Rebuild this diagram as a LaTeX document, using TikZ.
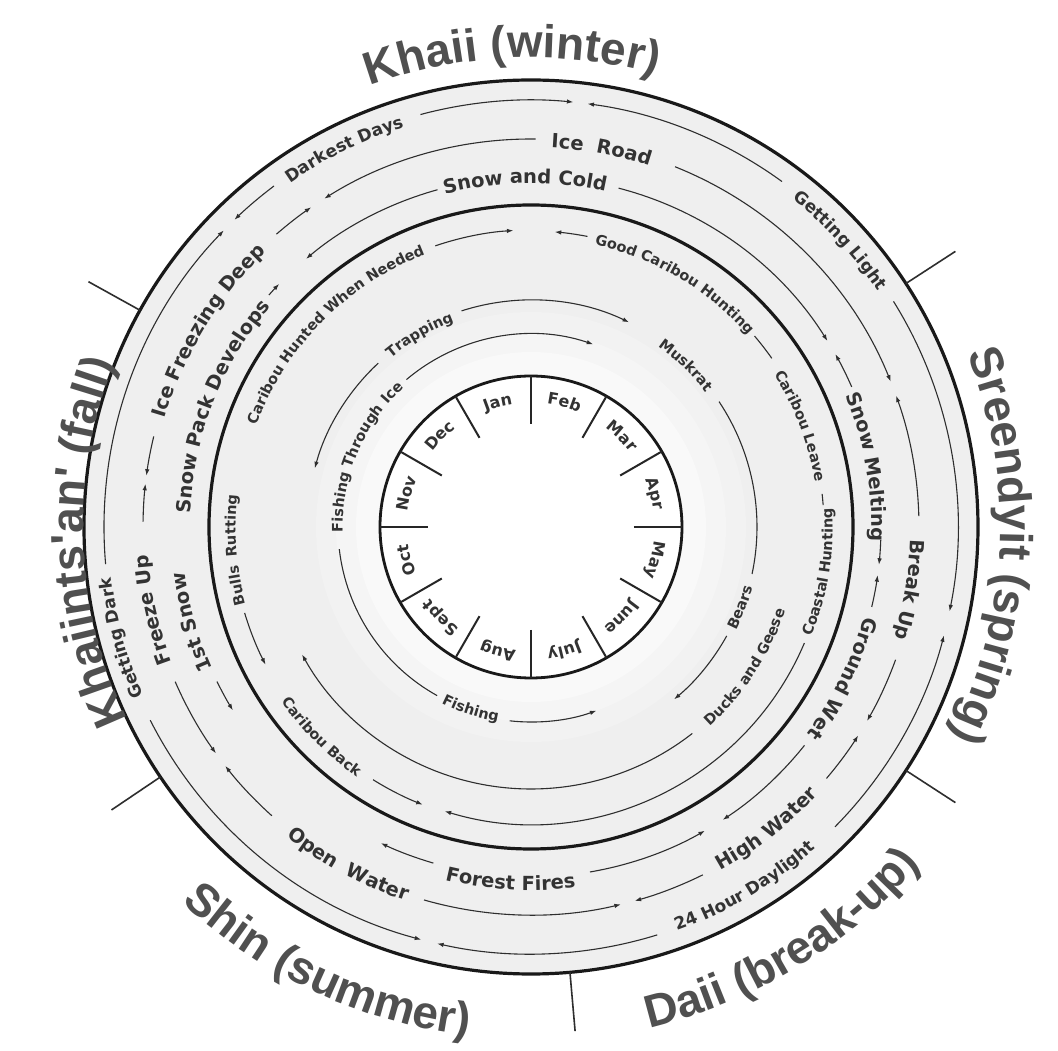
\documentclass[tikz,border=0pt]{standalone}
\usepackage{fontspec}
\setmainfont{DejaVu Sans}
\newfontfamily\lsans{Liberation Sans}
\newfontfamily\dvs{DejaVu Sans}
\usetikzlibrary{decorations.text,arrows.meta}
\definecolor{txt}{HTML}{333333}
\definecolor{seas}{HTML}{505050}
\definecolor{ringfill}{HTML}{EFEFEF}
\definecolor{ln}{HTML}{2E2E2E}
\newcommand\fSeason{\fontsize{46pt}{46pt}\selectfont\lsans\bfseries\color{seas}}
\newcommand\fOut{\fontsize{17pt}{17pt}\selectfont\dvs\bfseries\color{txt}}
\newcommand\fMid{\fontsize{19.5pt}{19.5pt}\selectfont\dvs\bfseries\color{txt}}
\newcommand\fIn{\fontsize{14.5pt}{14.5pt}\selectfont\dvs\bfseries\color{txt}}
\newcommand\fMon{\fontsize{16pt}{16pt}\selectfont\dvs\bfseries\color{txt}}
% clockwise label (tops outward)
\newcommand\cwl[4]{%
  \pgfmathsetmacro\LRr{#2-0.32*#3}%
  \pgfmathsetmacro\LSa{#1+70}%
  \pgfmathsetmacro\LEa{#1-70}%
  \path[decorate,decoration={text along path,text align=center,text={#4}}]
    (\LSa:\LRr) arc[start angle=\LSa,end angle=\LEa,radius=\LRr];}
% counter-clockwise label (tops inward)
\newcommand\ccwl[4]{%
  \pgfmathsetmacro\LRr{#2+0.32*#3}%
  \pgfmathsetmacro\LSa{#1-70}%
  \pgfmathsetmacro\LEa{#1+70}%
  \path[decorate,decoration={text along path,text align=center,text={#4}}]
    (\LSa:\LRr) arc[start angle=\LSa,end angle=\LEa,radius=\LRr];}
\newcommand\arw[3]{\draw[trk,-{Latex[length=6.5pt,width=4.5pt]}] (#1:#3) arc[start angle=#1,end angle=#2,radius=#3];}
\newcommand\pln[3]{\draw[trk] (#1:#3) arc[start angle=#1,end angle=#2,radius=#3];}
\tikzset{
  trk/.style={draw=ln,line width=1.1pt},
  thick ring/.style={draw=black!90,line width=3.2pt},
  divider/.style={draw=ln,line width=1.6pt},
  monthtick/.style={draw=black!85,line width=2pt},
}
\begin{document}
\begin{tikzpicture}[x=1pt,y=1pt]
\useasboundingbox (-531,-524) rectangle (527,527);
\fill[white] (-531,-524) rectangle (527,527);
% rings
\fill[ringfill] (0,0) circle[radius=447];
\fill[ringfill!80!white] (0,0) circle[radius=215];
\fill[ringfill!60!white] (0,0) circle[radius=195];
\fill[ringfill!40!white] (0,0) circle[radius=175];
\draw[thick ring] (0,0) circle[radius=447];
\draw[thick ring] (0,0) circle[radius=322];
\fill[white] (0,0) circle[radius=151];
\draw[thick ring,line width=2.8pt] (0,0) circle[radius=151];
% season dividers
\foreach \a in {33,151,214,-33,-85} \draw[divider] (\a:447) -- (\a:506);
% month ticks
\foreach \a in {0,30,...,330} \draw[monthtick] (\a:103) -- (\a:151);
% months
\cwl{105}{129}{16}{|\fMon|Jan}
\cwl{75}{129}{16}{|\fMon|Feb}
\cwl{45}{129}{16}{|\fMon|Mar}
\cwl{15}{129}{16}{|\fMon|Apr}
\cwl{-15}{129}{16}{|\fMon|May}
\cwl{-45}{129}{16}{|\fMon|June}
\cwl{-75}{129}{16}{|\fMon|July}
\cwl{-105}{129}{16}{|\fMon|Aug}
\cwl{-135}{129}{16}{|\fMon|Sept}
\cwl{-165}{129}{16}{|\fMon|Oct}
\cwl{165}{129}{16}{|\fMon|Nov}
\cwl{135}{129}{16}{|\fMon|Dec}
% season labels
\cwl{92.3}{484}{46}{|\fSeason|Khaii (winter)}
\cwl{-2.4}{484}{46}{|\fSeason|Sreendyit (spring)}
\ccwl{-58.8}{500}{46}{|\fSeason|Daii (break-up)}
\ccwl{245}{498}{46}{|\fSeason|Shin (summer)}
\cwl{182}{462}{46}{|\fSeason|Khaiints'an' (fall)}
% outer track
\cwl{116.3}{425}{17}{|\fOut|Darkest Days}
\cwl{42.8}{425}{17}{|\fOut|Getting Light}
\cwl{195.2}{428}{17}{|\fOut|Getting Dark}
\ccwl{300.7}{424}{17}{|\fOut|24 Hour Daylight}
\arw{105}{84.3}{427}
\arw{54}{82.4}{427}
\arw{127}{134}{427}
\arw{185}{136}{427}
\arw{206.9}{255.1}{427}
\arw{287.2}{257.3}{427}
\arw{315.4}{345.3}{427}
\arw{31.9}{-11.4}{427}
% middle track
\cwl{79.4}{386}{19.5}{|\fMid|Ice {\kern6pt}Road}
\cwl{148.7}{388}{19.5}{|\fMid|Ice Freezing Deep}
\cwl{192.4}{390}{19.5}{|\fMid|Freeze Up}
\ccwl{241.6}{388}{19.5}{|\fMid|Open {\kern6pt}Water}
\ccwl{308}{386}{19.5}{|\fMid|High Water}
\cwl{-9.4}{386}{19.5}{|\fMid|Break Up}
\arw{89.3}{122.2}{388}
\arw{131}{124.5}{388}
\arw{166.5}{172.4}{388}
\arw{179.2}{173.6}{388}
\arw{203.5}{215.7}{388}
\arw{228.1}{218}{388}
\arw{254}{283.4}{388}
\arw{296.3}{285.5}{388}
\arw{319.6}{327.5}{388}
\arw{340}{330}{388}
\arw{1.6}{19.8}{388}
\arw{68.2}{22}{388}
% inner track
\cwl{91}{350}{19.5}{|\fMid|Snow and Cold}
\cwl{158.75}{347}{19.5}{|\fMid|Snow Pack Develops}
\cwl{195.7}{355}{19.5}{|\fMid|1st Snow}
\ccwl{266.7}{357}{19.5}{|\fMid|Forest Fires}
\cwl{-25.9}{351}{19.5}{|\fMid|Ground Wet}
\cwl{10.2}{347}{19.5}{|\fMid|Snow Melting}
\arw{105.5}{130}{350}
\arw{138.5}{136}{350}
\arw{206.2}{211.6}{350}
\arw{253.8}{244.6}{350}
\arw{279.7}{299.8}{350}
\arw{321.4}{303.2}{350}
\arw{346.8}{352.1}{350}
\arw{357.9}{353.8}{350}
\arw{23.6}{29.6}{350}
\arw{75.5}{32.1}{350}
% activities
\cwl{135.4}{297}{14.5}{|\fIn|Caribou Hunted When Needed}
\cwl{59.4}{294}{14.5}{|\fIn|Good Caribou Hunting}
\cwl{20.5}{292}{14.5}{|\fIn|Caribou Leave}
\ccwl{-8.9}{297}{14.5}{|\fIn|Coastal Hunting}
\ccwl{225}{300}{14.5}{|\fIn|Caribou Back}
\cwl{184.5}{300}{14.5}{|\fIn|Bulls {\kern4pt}Rutting}
\ccwl{-33.2}{263}{14.5}{|\fIn|Ducks and Geese}
\cwl{120.1}{224}{14.5}{|\fIn|Trapping}
\cwl{46.2}{225}{14.5}{|\fIn|Muskrat}
\ccwl{-21}{225}{14.5}{|\fIn|Bears}
\cwl{157}{193}{14.5}{|\fIn|Fishing Through Ice}
\ccwl{251.7}{193}{14.5}{|\fIn|Fishing}
\arw{108.8}{93.4}{297}
\arw{79}{85.4}{296}
\pln{40.5}{35}{294}
\pln{6.5}{4.3}{293}
\arw{-23}{-106.9}{297}
\arw{238}{248.7}{298}
\arw{196.7}{207.4}{299}
\arw{-52}{-150.9}{262}
\arw{107.8}{64.4}{227}
\pln{33.7}{-12}{226}
\arw{-29.1}{-50.3}{224}
\arw{133}{164.8}{224}
\arw{130.2}{71.2}{193}
\pln{186.6}{240.9}{193}
\arw{263.7}{289.6}{195}
\end{tikzpicture}
\end{document}
